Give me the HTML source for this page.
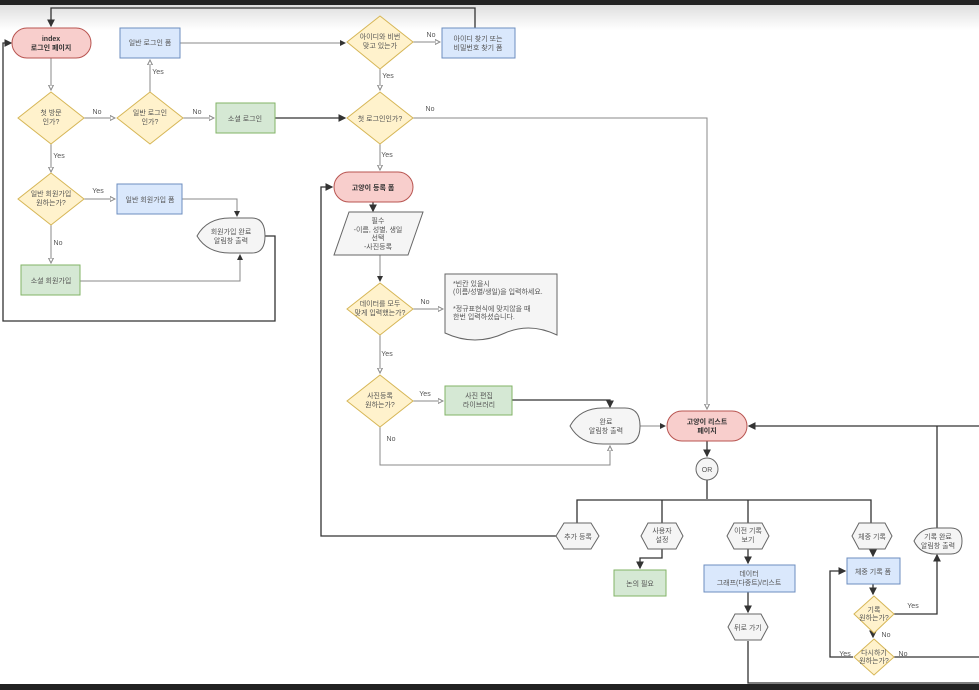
<!DOCTYPE html>
<html><head><meta charset="utf-8"><style>
body{margin:0;background:#fff;}
svg{display:block;font-family:"Liberation Sans","Noto Sans CJK KR",sans-serif;}
text{font-size:7px;fill:#555;text-anchor:middle;}
.l{fill:none;stroke:#888;stroke-width:1;}
.d{fill:none;stroke:#333;stroke-width:1.3;}
.y{fill:#fff2cc;stroke:#d6b656;}
.b{fill:#dae8fc;stroke:#6c8ebf;}
.g{fill:#d5e8d4;stroke:#82b366;}
.p{fill:#f8cecc;stroke:#b85450;}
.w{fill:#f5f5f5;stroke:#666;}
.t{font-size:7px;fill:#666;}
</style></head><body>
<svg width="979" height="690" viewBox="0 0 979 690">
<defs>
<linearGradient id="gr" x1="0" y1="0" x2="0" y2="1"><stop offset="0" stop-color="#d8d8d8"/><stop offset="1" stop-color="#fff"/></linearGradient>
<marker id="a" markerWidth="6" markerHeight="6" refX="5" refY="3" orient="auto"><path d="M0,0L6,3L0,6z" fill="#333"/></marker>
<marker id="o" markerWidth="6" markerHeight="6" refX="5" refY="3" orient="auto"><path d="M0,0.5L5,3L0,5.5z" fill="#fff" stroke="#888"/></marker>
</defs>
<rect x="0" y="0" width="979" height="30" fill="url(#gr)"/>
<rect x="0" y="0" width="979" height="5" fill="#222"/>
<rect x="0" y="684" width="979" height="6" fill="#222"/>

<path class="d" d="M475,28V8H51V26" marker-end="url(#a)"/>
<path class="l" d="M51,58V90" marker-end="url(#o)"/>
<path class="l" d="M84,118H115" marker-end="url(#o)"/>
<path class="l" d="M183,118H214" marker-end="url(#o)"/>
<path class="l" d="M150,92V60" marker-end="url(#o)"/>
<path class="l" d="M180,43H345" marker-end="url(#a)"/>
<path class="l" d="M413,42H440" marker-end="url(#o)"/>
<path class="l" d="M380,68V90" marker-end="url(#o)"/>
<path class="d" d="M275,118H345" marker-end="url(#a)"/>
<path class="l" d="M413,118H707V409" marker-end="url(#o)"/>
<path class="l" d="M380,144V170" marker-end="url(#o)"/>
<path class="l" d="M51,144V172" marker-end="url(#o)"/>
<path class="l" d="M84,199H115" marker-end="url(#o)"/>
<path class="l" d="M51,225V263" marker-end="url(#o)"/>
<path class="l" d="M182,199H237V216" marker-end="url(#a)"/>
<path class="l" d="M80,281H240V255" marker-end="url(#a)"/>
<path class="d" d="M265,236H275V321H3V43H11" marker-end="url(#a)"/>
<path class="d" d="M373,202V211" marker-end="url(#a)"/>
<path class="l" d="M380,255V281" marker-end="url(#a)"/>
<path class="l" d="M413,309H443" marker-end="url(#o)"/>
<path class="l" d="M380,335V373" marker-end="url(#o)"/>
<path class="l" d="M413,401H443" marker-end="url(#o)"/>
<path class="d" d="M512,400H610V407" marker-end="url(#a)"/>
<path class="l" d="M380,427V465H610V446" marker-end="url(#o)"/>
<path class="l" d="M640,426H665" marker-end="url(#a)"/>
<path class="d" d="M979,426H749" marker-end="url(#a)"/>
<path class="d" d="M707,441V456" marker-end="url(#a)"/>
<path class="d" d="M707,480V499"/>
<path class="d" d="M577,523V500H871V523M662,500V523M748,500V523"/>
<path class="d" d="M556,536H321V187H332" marker-end="url(#a)"/>
<path class="d" d="M662,549V558H640V568" marker-end="url(#a)"/>
<path class="d" d="M748,549V563" marker-end="url(#a)"/>
<path class="d" d="M748,592V612" marker-end="url(#a)"/>
<path class="d" d="M748,641V683H979"/>
<path class="d" d="M873,549V556" marker-end="url(#a)"/>
<path class="d" d="M873,584V594" marker-end="url(#a)"/>
<path class="d" d="M873,633V637" marker-end="url(#a)"/>
<path class="d" d="M894,614H937V555" marker-end="url(#a)"/>
<path class="d" d="M937,528V426"/>
<path class="d" d="M853,657H830V571H845" marker-end="url(#a)"/>
<path class="d" d="M894,657H979"/>

<g class="t">
<text x="431" y="37">No</text><text x="388" y="78">Yes</text>
<text x="97" y="114">No</text><text x="197" y="114">No</text><text x="158" y="74">Yes</text>
<text x="430" y="111">No</text><text x="387" y="157">Yes</text>
<text x="59" y="158">Yes</text><text x="98" y="193">Yes</text><text x="58" y="245">No</text>
<text x="425" y="304">No</text><text x="387" y="356">Yes</text>
<text x="425" y="396">Yes</text><text x="391" y="441">No</text>
<text x="913" y="608">Yes</text><text x="886" y="637">No</text>
<text x="845" y="656">Yes</text><text x="903" y="656">No</text>
</g>

<rect class="p" x="12" y="28" width="79" height="30" rx="15"/>
<text x="51" y="41" style="font-weight:bold;fill:#333">index</text><text x="51" y="50" style="font-weight:bold;fill:#333">로그인 페이지</text>
<rect class="b" x="120" y="28" width="60" height="30"/><text x="150" y="45">일반 로그인 폼</text>
<path class="y" d="M380,16L413,42L380,69L347,42z"/><text x="380" y="39">아이디와 비번</text><text x="380" y="48">맞고 있는가</text>
<rect class="b" x="442" y="28" width="73" height="30"/><text x="478" y="41">아이디 찾기 또는</text><text x="478" y="50">비밀번호 찾기 폼</text>
<path class="y" d="M51,92L84,118L51,144L18,118z"/><text x="51" y="115">첫 방문</text><text x="51" y="124">인가?</text>
<path class="y" d="M150,92L183,118L150,144L117,118z"/><text x="150" y="115">일반 로그인</text><text x="150" y="124">인가?</text>
<rect class="g" x="216" y="103" width="59" height="30"/><text x="245" y="121">소셜 로그인</text>
<path class="y" d="M380,92L413,118L380,144L347,118z"/><text x="380" y="121">첫 로그인인가?</text>
<path class="y" d="M51,173L84,199L51,225L18,199z"/><text x="51" y="196">일반 회원가입</text><text x="51" y="205">원하는가?</text>
<rect class="b" x="117" y="184" width="65" height="30"/><text x="150" y="202">일반 회원가입 폼</text>
<path class="w" d="M197,236Q207,218 230,218H252Q265,218 265,236Q265,253 252,253H230Q207,253 197,236z"/><text x="231" y="234">회원가입 완료</text><text x="231" y="243">알림창 출력</text>
<rect class="g" x="21" y="265" width="59" height="30"/><text x="51" y="283">소셜 회원가입</text>
<rect class="p" x="334" y="172" width="79" height="30" rx="15"/><text x="373" y="190" style="font-weight:bold;fill:#333">고양이 등록 폼</text>
<path class="w" d="M349,212H423L408,255H334z"/><text x="378" y="223">필수</text><text x="378" y="232">-이름, 성별, 생일</text><text x="378" y="240">선택</text><text x="378" y="249">-사진등록</text>
<path class="y" d="M380,283L413,309L380,335L347,309z"/><text x="380" y="306">데이터를 모두</text><text x="380" y="315">맞게 입력했는가?</text>
<path class="w" d="M445,274H557V335Q530,322 505,333Q475,347 445,333z"/>
<text x="453" y="286" style="text-anchor:start">*빈칸 있을시</text><text x="453" y="294" style="text-anchor:start">(이름/성별/생일)을 입력하세요.</text><text x="453" y="311" style="text-anchor:start">*정규표현식에 맞지않을 때</text><text x="453" y="319" style="text-anchor:start">한번 입력하셨습니다.</text>
<path class="y" d="M380,375L413,401L380,427L347,401z"/><text x="380" y="398">사진등록</text><text x="380" y="407">원하는가?</text>
<rect class="g" x="445" y="386" width="67" height="29"/><text x="479" y="398">사진 편집</text><text x="479" y="407">라이브러리</text>
<path class="w" d="M570,426Q580,408 603,408H625Q640,408 640,426Q640,444 625,444H603Q580,444 570,426z"/><text x="606" y="424">완료</text><text x="606" y="433">알림창 출력</text>
<rect class="p" x="667" y="411" width="80" height="30" rx="15"/><text x="707" y="424" style="font-weight:bold;fill:#333">고양이 리스트</text><text x="707" y="433" style="font-weight:bold;fill:#333">페이지</text>
<circle class="w" cx="707" cy="469" r="11"/><text x="707" y="472">OR</text>
<path class="w" d="M556,536L564,523H591L599,536L591,549H564z"/><text x="578" y="539">추가 등록</text>
<path class="w" d="M641,536L648,523H676L683,536L676,549H648z"/><text x="662" y="533">사용자</text><text x="662" y="542">설정</text>
<path class="w" d="M727,536L734,523H762L769,536L762,549H734z"/><text x="748" y="533">이전 기록</text><text x="748" y="542">보기</text>
<path class="w" d="M852,536L859,523H885L892,536L885,549H859z"/><text x="872" y="539">체중 기록</text>
<path class="w" d="M914,541Q920,528 935,528H951Q962,528 962,541Q962,554 951,554H935Q920,554 914,541z"/><text x="938" y="539">기록 완료</text><text x="938" y="548">알림창 출력</text>
<rect class="g" x="614" y="570" width="52" height="26"/><text x="640" y="586">논의 필요</text>
<rect class="b" x="704" y="565" width="91" height="27"/><text x="749" y="576">데이터</text><text x="749" y="585">그래프(다중트)/리스트</text>
<path class="w" d="M728,627L735,614H761L768,627L761,640H735z"/><text x="748" y="630">뒤로 가기</text>
<rect class="b" x="847" y="558" width="53" height="26"/><text x="873" y="574">체중 기록 폼</text>
<path class="y" d="M874,596L894,614L874,633L854,614z"/><text x="874" y="612">기록</text><text x="874" y="620">원하는가?</text>
<path class="y" d="M874,639L894,657L874,675L854,657z"/><text x="874" y="655">다시하기</text><text x="874" y="663">원하는가?</text>
</svg>
</body></html>
